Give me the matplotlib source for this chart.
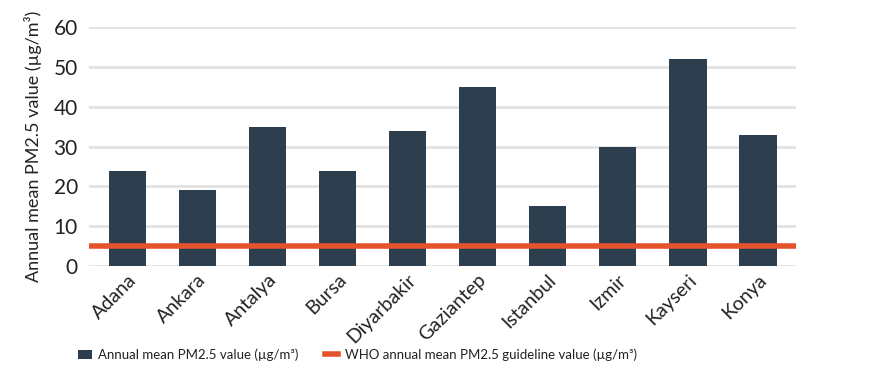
import matplotlib.pyplot as plt

cities = ["Adana", "Ankara", "Antalya", "Bursa", "Diyarbakir", "Gaziantep",
          "Istanbul", "Izmir", "Kayseri", "Konya"]
pm25 = [24, 19, 35, 24, 34, 45, 15, 30, 52, 33]
who_guideline = 5
yticks = [0, 10, 20, 30, 40, 50, 60]

BAR = "#2d3e4e"
ORANGE = "#e5532d"
TXT = "#222222"

plt.rcParams["font.family"] = ["Lato", "DejaVu Sans"]

fig = plt.figure(figsize=(8.72, 3.92), dpi=100)
ax = fig.add_axes([0.102, 0.321, 0.811, 0.61])

x = list(range(len(cities)))
bars = ax.bar(x, pm25, width=0.54, color=BAR, zorder=2)
line = ax.axhline(who_guideline, color=ORANGE, lw=4, zorder=3)

ax.set_xlim(-0.55, len(cities) - 0.45)
ax.set_ylim(0, 60)
ax.set_yticks(yticks)
ax.yaxis.grid(True, color="#e2e2e2", lw=2, zorder=0)
ax.set_axisbelow(True)
for s in ax.spines.values():
    s.set_visible(False)
ax.tick_params(axis="both", length=0, colors=TXT)
ax.tick_params(axis="y", pad=8, labelsize=15)
ax.tick_params(axis="x", labelsize=14)
ax.set_xticks(x)
ax.set_xticklabels(cities, rotation=45, ha="right", rotation_mode="anchor")
ax.set_ylabel("Annual mean PM2.5 value (µg/m³)", fontsize=13, color=TXT, labelpad=8)

fig.legend([bars, line],
           ["Annual mean PM2.5 value (µg/m³)",
            "WHO annual mean PM2.5 guideline value (µg/m³)"],
           loc="center", bbox_to_anchor=(0.41, 0.095), ncol=2, frameon=False,
           fontsize=9.5, handlelength=1.0, handletextpad=0.5,
           columnspacing=2, labelcolor=TXT)

fig.savefig("out.png", dpi=100)
